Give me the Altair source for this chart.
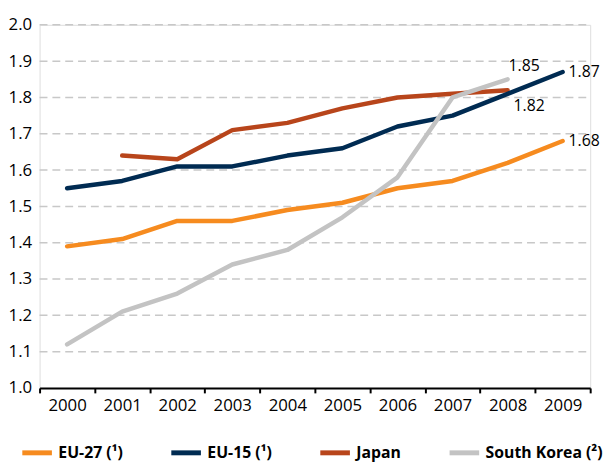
import altair as alt
import pandas as pd

years = [2000, 2001, 2002, 2003, 2004, 2005, 2006, 2007, 2008, 2009]
eu27 = [1.39, 1.41, 1.46, 1.46, 1.49, 1.51, 1.55, 1.57, 1.62, 1.68]
eu15 = [1.55, 1.57, 1.61, 1.61, 1.64, 1.66, 1.72, 1.75, 1.81, 1.87]
japan = [None, 1.64, 1.63, 1.71, 1.73, 1.77, 1.80, 1.81, 1.82, None]
korea = [1.12, 1.21, 1.26, 1.34, 1.38, 1.47, 1.58, 1.80, 1.85, None]

series_names = ["EU-27 (¹)", "EU-15 (¹)", "Japan", "South Korea (²)"]
series_colors = ["#f68b1f", "#002b52", "#b8451b", "#c3c3c3"]
y_ticks = [1.0, 1.1, 1.2, 1.3, 1.4, 1.5, 1.6, 1.7, 1.8, 1.9, 2.0]

# drawing order: Japan below, South Korea on top
draw_order = [("Japan", japan), ("EU-27 (¹)", eu27), ("EU-15 (¹)", eu15), ("South Korea (²)", korea)]
rows = []
for name, vals in draw_order:
    for yr, v in zip(years, vals):
        if v is not None:
            rows.append({"series": name, "year": yr, "value": v})
df = pd.DataFrame(rows)
last = df.sort_values("year").groupby("series").tail(1).copy()
last["label"] = last["value"].map(lambda v: f"{v:.2f}")
grid_df = pd.DataFrame({"value": y_ticks[1:]})

FONT = "Open Sans"
W, H = 558, 368

x = alt.X(
    "year:O",
    scale=alt.Scale(type="band", paddingInner=0, paddingOuter=0),
    axis=alt.Axis(
        title=None, labelAngle=0, tickBand="extent", grid=False,
        domainColor="black", domainWidth=2, tickColor="black", tickWidth=2,
        tickSize=5, labelFontSize=17, labelColor="black", labelPadding=5,
        labelFont=FONT,
    ),
)
y_axis = alt.Axis(
    title=None, values=y_ticks, format=".1f", domain=False,
    ticks=False, labelOverlap=False, grid=False,
    labelPadding=8, labelFontSize=17, labelColor="black", labelFont=FONT,
)
y_scale = alt.Scale(domain=[1.0, 2.0], nice=False, zero=False)
y = alt.Y("value:Q", scale=y_scale, axis=y_axis)
color = alt.Color(
    "series:N",
    scale=alt.Scale(domain=series_names, range=series_colors),
    legend=alt.Legend(
        title=None, orient="none", legendX=-20, legendY=416,
        direction="horizontal", columns=4, columnPadding=38,
        symbolType="stroke", symbolSize=900, symbolStrokeWidth=5,
        labelFontSize=16, labelFontWeight="bold", labelFont=FONT,
        labelColor="black", labelOffset=4,
        labelExpr="datum.label == 'Japan' ? 'Japan\u00a0\u00a0\u00a0\u00a0' : datum.label",
    ),
)

grid = alt.Chart(grid_df).mark_rule(
    strokeDash=[8, 5], color="#c8c8c8", strokeWidth=1.5
).encode(y=y, x=alt.value(0), x2=alt.value(W - 4))

lines = alt.Chart(df).mark_line(
    strokeWidth=4.5, strokeCap="round", strokeJoin="round"
).encode(x=x, y=y, color=color)

def end_label(name, dx, dy):
    return alt.Chart(last).transform_filter(
        alt.datum.series == name
    ).mark_text(
        align="left", baseline="middle", dx=dx, dy=dy,
        fontSize=16, font=FONT, color="black"
    ).encode(x=x, y=y, text="label:N")

labels = [
    end_label("South Korea (²)", 1, -13),
    end_label("Japan", 6, 16),
    end_label("EU-15 (¹)", 6, 0),
    end_label("EU-27 (¹)", 6, 0),
]

chart = alt.layer(grid, lines, *labels).properties(
    width=W, height=H,
    autosize=alt.AutoSizeParams(type="none"),
    padding={"left": 32, "top": 14, "right": 14, "bottom": 73},
).configure_view(stroke=None).configure(font=FONT)

chart.save("out.html", embed_options={"renderer": "svg", "actions": False})
